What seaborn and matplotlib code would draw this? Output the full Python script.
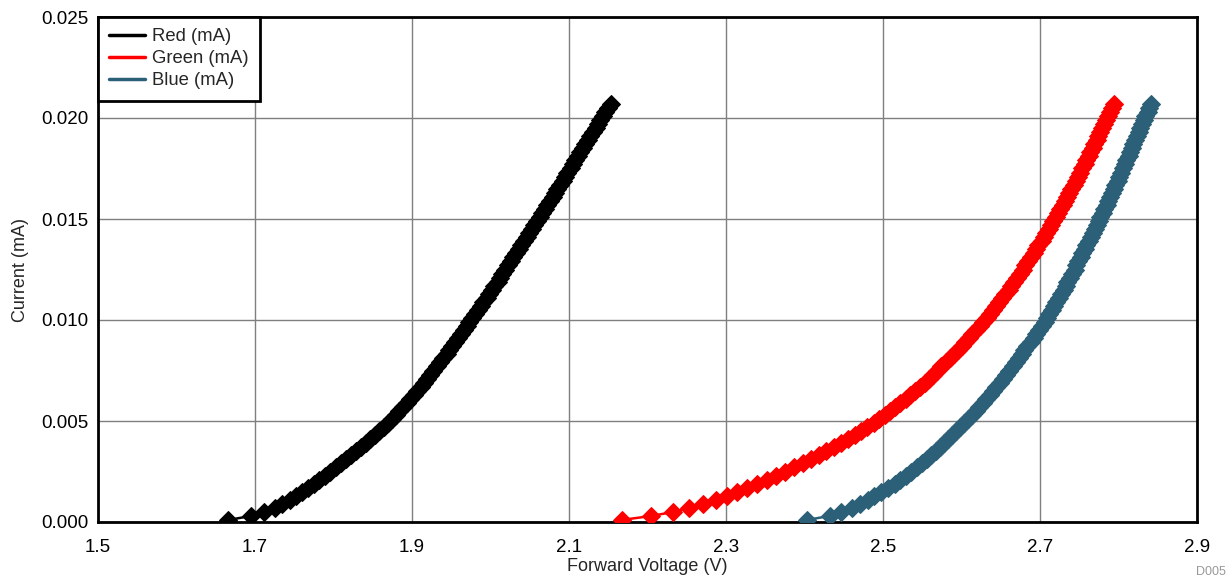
import numpy as np
import pandas as pd
import matplotlib
matplotlib.use("Agg")
import matplotlib.pyplot as plt
from matplotlib.lines import Line2D
import seaborn as sns

# Current sweep (A)
current = [
    0.0001, 0.0003, 0.0005, 0.0007, 0.0009,
    0.0011, 0.0013, 0.0015, 0.0017, 0.0019,
    0.0021, 0.0023, 0.0025, 0.0027, 0.0029,
    0.0031, 0.0033, 0.0035, 0.0037, 0.0039,
    0.0041, 0.0043, 0.0045, 0.0047, 0.0049,
    0.0051, 0.0053, 0.0055, 0.0057, 0.0059,
    0.0061, 0.0063, 0.0065, 0.0067, 0.0069,
    0.0071, 0.0073, 0.0075, 0.0077, 0.0079,
    0.0081, 0.0083, 0.0085, 0.0087, 0.0089,
    0.0091, 0.0093, 0.0095, 0.0097, 0.0099,
    0.0101, 0.0103, 0.0105, 0.0107, 0.0109,
    0.0111, 0.0113, 0.0115, 0.0117, 0.0119,
    0.0121, 0.0123, 0.0125, 0.0127, 0.0129,
    0.0131, 0.0133, 0.0135, 0.0137, 0.0139,
    0.0141, 0.0143, 0.0145, 0.0147, 0.0149,
    0.0151, 0.0153, 0.0155, 0.0157, 0.0159,
    0.0161, 0.0163, 0.0165, 0.0167, 0.0169,
    0.0171, 0.0173, 0.0175, 0.0177, 0.0179,
    0.0181, 0.0183, 0.0185, 0.0187, 0.0189,
    0.0191, 0.0193, 0.0195, 0.0197, 0.0199,
    0.0201, 0.0203, 0.0205, 0.0207,
]

# Forward voltage (V) for each LED colour
v_red = [
    1.666, 1.695, 1.712, 1.725, 1.735,
    1.744, 1.752, 1.760, 1.768, 1.775,
    1.782, 1.789, 1.796, 1.803, 1.810,
    1.816, 1.822, 1.829, 1.835, 1.841,
    1.847, 1.853, 1.858, 1.864, 1.869,
    1.874, 1.879, 1.884, 1.888, 1.893,
    1.898, 1.902, 1.906, 1.911, 1.915,
    1.919, 1.923, 1.927, 1.932, 1.936,
    1.940, 1.944, 1.947, 1.951, 1.955,
    1.959, 1.963, 1.966, 1.970, 1.973,
    1.977, 1.980, 1.984, 1.988, 1.991,
    1.995, 1.998, 2.002, 2.005, 2.009,
    2.012, 2.015, 2.019, 2.022, 2.026,
    2.029, 2.033, 2.036, 2.039, 2.043,
    2.046, 2.049, 2.053, 2.056, 2.059,
    2.063, 2.066, 2.069, 2.072, 2.076,
    2.079, 2.082, 2.085, 2.089, 2.092,
    2.095, 2.098, 2.102, 2.105, 2.108,
    2.111, 2.114, 2.118, 2.121, 2.124,
    2.127, 2.130, 2.134, 2.137, 2.140,
    2.143, 2.146, 2.150, 2.153,
]

v_green = [
    2.167, 2.205, 2.233, 2.253, 2.271,
    2.287, 2.301, 2.314, 2.327, 2.340,
    2.352, 2.364, 2.375, 2.386, 2.398,
    2.408, 2.418, 2.428, 2.437, 2.447,
    2.456, 2.464, 2.472, 2.480, 2.488,
    2.495, 2.502, 2.509, 2.515, 2.522,
    2.529, 2.535, 2.541, 2.547, 2.553,
    2.558, 2.564, 2.569, 2.574, 2.580,
    2.585, 2.590, 2.595, 2.600, 2.604,
    2.609, 2.614, 2.618, 2.623, 2.627,
    2.632, 2.636, 2.640, 2.644, 2.648,
    2.652, 2.656, 2.660, 2.663, 2.667,
    2.671, 2.674, 2.678, 2.681, 2.685,
    2.688, 2.692, 2.695, 2.698, 2.702,
    2.705, 2.708, 2.711, 2.714, 2.717,
    2.720, 2.723, 2.726, 2.729, 2.732,
    2.735, 2.737, 2.740, 2.743, 2.746,
    2.749, 2.751, 2.754, 2.757, 2.759,
    2.762, 2.764, 2.767, 2.769, 2.772,
    2.774, 2.777, 2.779, 2.782, 2.784,
    2.787, 2.789, 2.792, 2.794,
]

v_blue = [
    2.403, 2.432, 2.447, 2.460, 2.471,
    2.481, 2.489, 2.498, 2.506, 2.515,
    2.522, 2.529, 2.536, 2.543, 2.550,
    2.556, 2.561, 2.567, 2.573, 2.578,
    2.583, 2.588, 2.593, 2.598, 2.603,
    2.608, 2.613, 2.618, 2.622, 2.627,
    2.631, 2.636, 2.640, 2.644, 2.649,
    2.653, 2.657, 2.661, 2.665, 2.669,
    2.673, 2.677, 2.680, 2.684, 2.688,
    2.692, 2.695, 2.699, 2.702, 2.706,
    2.709, 2.712, 2.715, 2.718, 2.721,
    2.724, 2.727, 2.730, 2.733, 2.735,
    2.738, 2.741, 2.744, 2.746, 2.749,
    2.752, 2.754, 2.757, 2.759, 2.762,
    2.765, 2.767, 2.770, 2.772, 2.775,
    2.777, 2.780, 2.782, 2.785, 2.787,
    2.789, 2.792, 2.794, 2.796, 2.799,
    2.801, 2.803, 2.806, 2.808, 2.810,
    2.813, 2.815, 2.817, 2.819, 2.821,
    2.824, 2.826, 2.828, 2.830, 2.832,
    2.834, 2.837, 2.839, 2.841,
]

series_names = ["Red (mA)", "Green (mA)", "Blue (mA)"]
series_colors = ["#000000", "#FF0000", "#2B6078"]
x_ticks = [1.5, 1.7, 1.9, 2.1, 2.3, 2.5, 2.7, 2.9]
y_ticks = [0.000, 0.005, 0.010, 0.015, 0.020, 0.025]

frames = []
for name, v in zip(series_names, [v_red, v_green, v_blue]):
    frames.append(pd.DataFrame({"V": v, "I": current, "series": name}))
df = pd.concat(frames, ignore_index=True)

sns.set_style("white")
plt.rcParams["font.family"] = ["Liberation Sans", "DejaVu Sans"]

fig = plt.figure(figsize=(12.31, 5.81), dpi=100)
ax = fig.add_axes([98 / 1231, 59 / 581, (1197 - 98) / 1231, (522 - 17) / 581])

for name, color in zip(series_names, series_colors):
    sub = df[df["series"] == name]
    sns.lineplot(data=sub, x="V", y="I", ax=ax, color=color, sort=False,
                 estimator=None, marker="D", markersize=9,
                 markeredgecolor=color, markerfacecolor=color,
                 linewidth=1.8, legend=False, zorder=3)

ax.set_xlim(1.5, 2.9)
ax.set_ylim(0, 0.025)
ax.set_xticks(x_ticks)
ax.set_yticks(y_ticks)
ax.set_xticklabels([f"{t:.1f}" for t in x_ticks])
ax.set_yticklabels([f"{t:.3f}" for t in y_ticks])
ax.tick_params(axis="both", length=0, labelsize=13.5, colors="#000000")
ax.tick_params(axis="x", pad=12)
ax.tick_params(axis="y", pad=7)
ax.grid(True, color="#7f7f7f", linewidth=1.0, zorder=0)
ax.set_axisbelow(True)
for sp in ax.spines.values():
    sp.set_visible(True)
    sp.set_color("#000000")
    sp.set_linewidth(2.0)

ax.set_xlabel("Forward Voltage (V)", fontsize=13, labelpad=2)
ax.set_ylabel("Current (mA)", fontsize=13, labelpad=9)

handles = [Line2D([0], [0], color=c, linewidth=2.5) for c in series_colors]
leg = ax.legend(handles, series_names, loc="upper left", fontsize=13.3,
                frameon=True, fancybox=False, borderaxespad=0.0,
                handlelength=1.95, handletextpad=0.35, borderpad=0.62,
                labelspacing=0.27)
leg.get_frame().set_edgecolor("#000000")
leg.get_frame().set_linewidth(2.0)
leg.get_frame().set_alpha(1.0)

fig.text(1226 / 1231, 3 / 581, "D005", ha="right", va="bottom",
         fontsize=9, color="#999999")

fig.savefig("out.png", dpi=100)
